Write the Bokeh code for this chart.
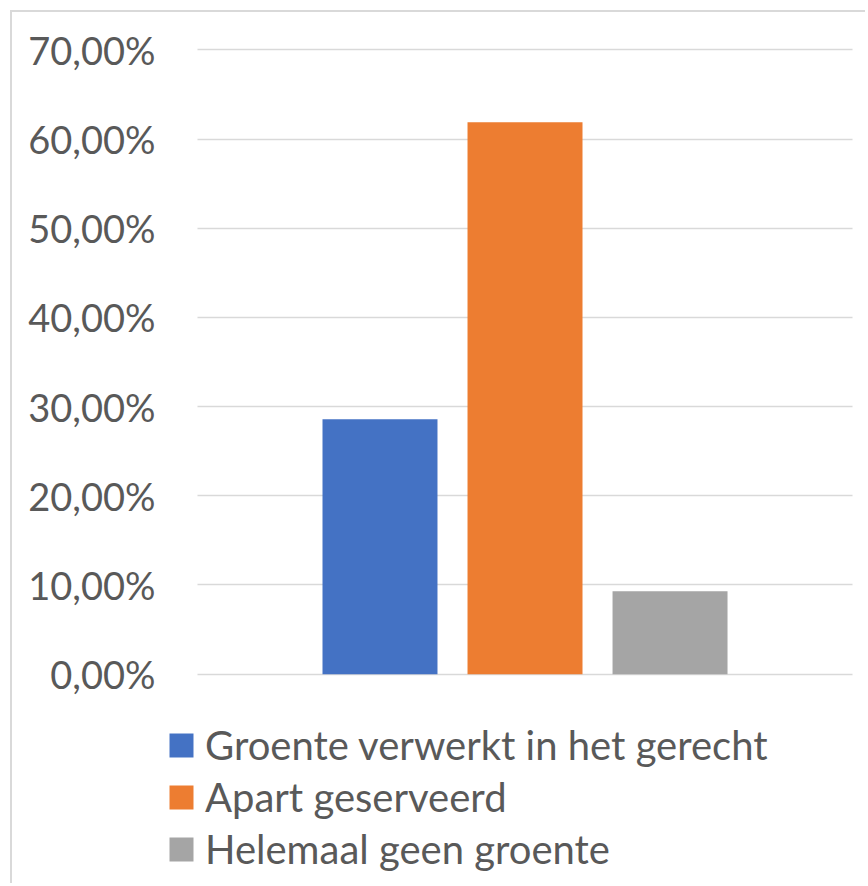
from bokeh.plotting import figure
from bokeh.models import (ColumnDataSource, FactorRange, FixedTicker, CustomJSTickFormatter,
                          Legend, LegendItem)
from bokeh.transform import dodge
from bokeh.embed import file_html
from bokeh.resources import INLINE

# ---- data ----
group = ["Groep"]
series = ["Groente verwerkt in het gerecht", "Apart geserveerd", "Helemaal geen groente"]
values = [28.6, 61.9, 9.3]            # percent
colors = ["#4472C4", "#ED7D31", "#A5A5A5"]
y_ticks = [0, 10, 20, 30, 40, 50, 60, 70]

FONT = "Lato"
TXT = "#595959"

W, H = 855, 873
p = figure(width=W, height=H, x_range=FactorRange(*group, range_padding=0),
           y_range=(-23.7, 70.5), output_backend="svg", toolbar_location=None,
           min_border_left=150, min_border_right=0, min_border_top=33,
           min_border_bottom=0)
p.styles = {"margin-left": "10px", "margin-top": "10px",
            "border-left": "2px solid #d9d9d9", "border-top": "2px solid #d9d9d9"}
p.outline_line_color = None
p.background_fill_color = "white"
p.border_fill_color = "white"

offsets = [-0.1915, 0.0142, 0.2199]
renderers = []
for name, v, c, off in zip(series, values, colors, offsets):
    src = ColumnDataSource(dict(cat=group, val=[v]))
    r = p.vbar(x=dodge("cat", off, range=p.x_range), top="val", bottom=0, width=0.1631,
               source=src, fill_color=c, line_color=None)
    renderers.append((name, r))

p.xaxis.visible = False
p.xgrid.grid_line_color = None
p.ygrid.grid_line_color = "#D9D9D9"
p.ygrid.grid_line_width = 1.5
p.ygrid.cross_bounds = (0.0496, 0.9787)

ya = p.yaxis[0]
ya.ticker = FixedTicker(ticks=y_ticks)
ya.formatter = CustomJSTickFormatter(code="return tick.toFixed(2).replace('.', ',') + '%';")
ya.axis_line_color = None
ya.major_tick_line_color = None
ya.minor_tick_line_color = None
ya.major_tick_out = 0
ya.major_tick_in = 0
ya.major_label_standoff = 7
ya.major_label_text_font = FONT
ya.major_label_text_font_size = "38px"
ya.major_label_text_color = TXT

legend = Legend(items=[LegendItem(label=n, renderers=[r]) for n, r in renderers],
                location=(4, 12), orientation="vertical",
                glyph_width=30, glyph_height=30, label_height=49,
                label_standoff=9, spacing=3, padding=0, margin=0,
                border_line_color=None, background_fill_alpha=0,
                label_text_font=FONT, label_text_font_size="40px",
                label_text_color=TXT)
p.add_layout(legend, "center")

open("out.html", "w").write(file_html(p, INLINE))
